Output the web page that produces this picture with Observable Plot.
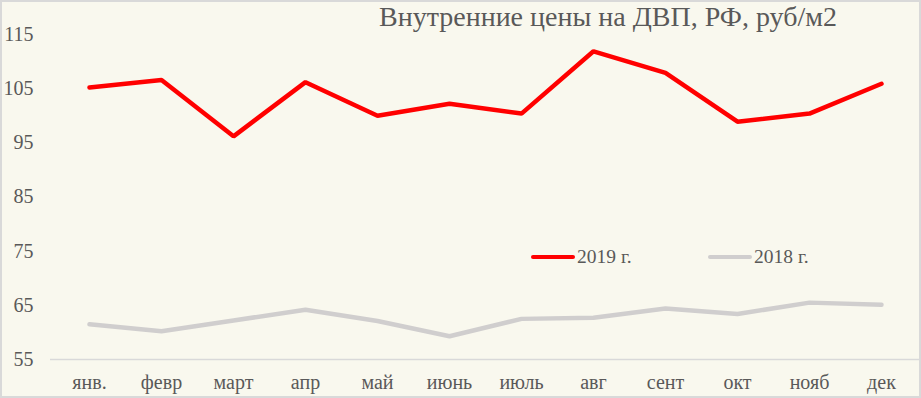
<!DOCTYPE html>
<html><head><meta charset="utf-8">
<script src="https://cdn.jsdelivr.net/npm/d3@7"></script>
<script src="https://cdn.jsdelivr.net/npm/@observablehq/plot@0.6"></script>
<style>
html,body{margin:0;padding:0;background:#f9f8ee;}
#wrap{position:relative;width:921px;height:398px;overflow:hidden;font-family:"Liberation Serif",serif;}
#border{position:absolute;left:0;top:0;width:921px;height:398px;box-sizing:border-box;border:2px solid #d9d9d9;pointer-events:none;}
#title{position:absolute;left:379px;top:1px;font-size:28px;color:#595959;white-space:nowrap;}
.leg{position:absolute;top:246px;font-size:19.5px;color:#595959;display:flex;align-items:center;white-space:nowrap;}
.sw{display:inline-block;width:44px;height:4.5px;border-radius:2px;margin-right:2px;}
</style></head>
<body><div id="wrap"><div id="chart"></div><div id="title"></div><div id="legend"></div><div id="border"></div></div>
<script>
const title = "Внутренние цены на ДВП, РФ, руб/м2";
const months = ["янв.","февр","март","апр","май","июнь","июль","авг","сент","окт","нояб","дек"];
const seriesNames = ["2019 г.","2018 г."];
const seriesColors = ["#ff0000","#d0cece"];
const values2019 = [105.2,106.6,96.2,106.2,100.0,102.2,100.4,111.9,107.9,98.9,100.4,105.9];
const values2018 = [61.5,60.2,62.2,64.2,62.1,59.3,62.5,62.7,64.4,63.4,65.5,65.1];
const yTicks = [55,65,75,85,95,105,115];

const data = [];
months.forEach((m,i)=>{
  data.push({month:m, value:values2019[i], series:seriesNames[0]});
});
months.forEach((m,i)=>{
  data.push({month:m, value:values2018[i], series:seriesNames[1]});
});

const chart = Plot.plot({
  width: 921, height: 398,
  marginLeft: 50, marginRight: 1, marginTop: 34, marginBottom: 39,
  style: {background: "transparent", fontFamily: "Liberation Serif, serif", fontSize: "20px", color: "#595959"},
  x: {type: "point", domain: months, padding: 0.5, label: null, tickSize: 0, tickPadding: 15},
  y: {domain: [55,115], ticks: yTicks, label: null, tickSize: 0, tickPadding: 17, tickFormat: d3.format("d")},
  color: {domain: seriesNames, range: seriesColors},
  marks: [
    Plot.ruleY([55], {stroke: "#d9d9d9", strokeWidth: 1.5}),
    Plot.line(data.filter(d=>d.series===seriesNames[1]), {x: "month", y: "value", stroke: "series", strokeWidth: 4.5, strokeLinecap: "round", strokeLinejoin: "miter"}),
    Plot.line(data.filter(d=>d.series===seriesNames[0]), {x: "month", y: "value", stroke: "series", strokeWidth: 4.5, strokeLinecap: "round", strokeLinejoin: "miter"})
  ]
});
document.getElementById("chart").appendChild(chart);
document.getElementById("title").textContent = title;
const legPos = [531, 708];
const legend = document.getElementById("legend");
seriesNames.forEach((n,i)=>{
  const el = document.createElement("div");
  el.className = "leg";
  el.style.left = legPos[i] + "px";
  el.innerHTML = `<span class="sw" style="background:${seriesColors[i]}"></span><span>${n}</span>`;
  legend.appendChild(el);
});
</script></body></html>
